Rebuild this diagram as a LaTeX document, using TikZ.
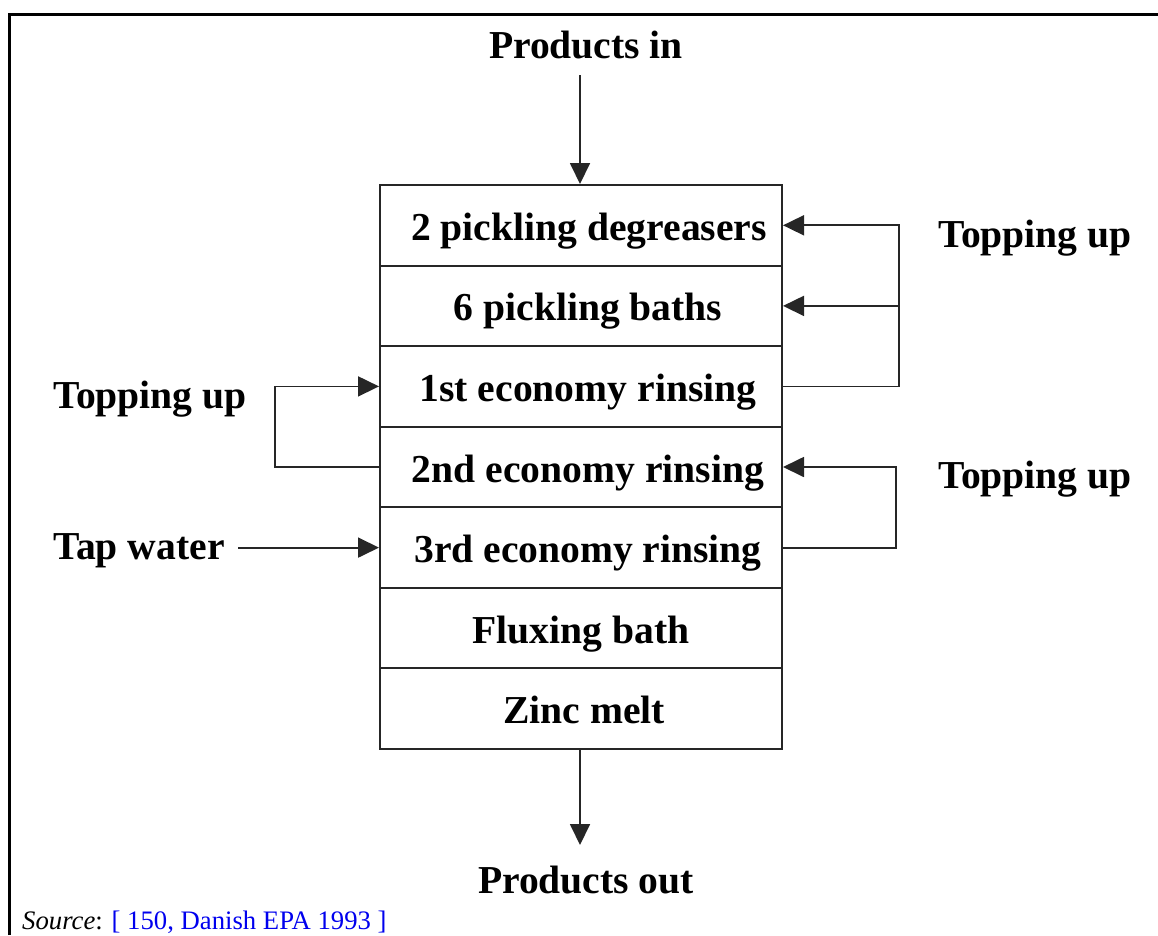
\documentclass[tikz,border=0pt]{standalone}
\usepackage{fontspec}
\setmainfont{Liberation Serif}
\usetikzlibrary{arrows.meta}
\definecolor{srcblue}{RGB}{0,0,238}
\tikzset{
  row/.style={draw=black!85, line width=2pt, minimum width=402pt, minimum height=80.57pt, inner sep=0pt,
    text height=30pt, text depth=0pt,
    font=\fontsize{39.6}{45}\selectfont\bfseries},
  lbl/.style={font=\fontsize{39.6}{45}\selectfont\bfseries, inner sep=0pt},
  arr/.style={draw=black!85, line width=1.8pt, -{Triangle[length=21pt,width=20pt]}},
  frame/.style={draw=black, line width=3pt}
}
\begin{document}
\begin{tikzpicture}[x=1pt,y=-1pt]
\useasboundingbox (0,0) rectangle (1158,935);
\draw[frame] (9,935) -- (9,14) -- (1160,14);
% rows
\node[row] (r1) at (581,225.3) {\hspace*{16pt}2 pickling degreasers};
\node[row] (r2) at (581,305.9) {\hspace*{14pt}6 pickling baths};
\node[row] (r3) at (581,386.4) {\hspace*{14pt}1st economy rinsing};
\node[row] (r4) at (581,467.0) {\hspace*{14pt}2nd economy rinsing};
\node[row] (r5) at (581,547.6) {\hspace*{14pt}3rd economy rinsing};
\node[row] (r6) at (581,628.1) {Fluxing bath};
\node[row] (r7) at (581,708.7) {\hspace*{6pt}Zinc melt};
% labels
\node[lbl] (pin) at (586,45) {Products in};
\node[lbl] (pout) at (586,880) {Products out};
\node[lbl] (tr1) at (1035,238) {Topping up};
\node[lbl] (tl) at (150,399) {Topping up};
\node[lbl] (tr2) at (1035,479) {Topping up};
\node[lbl] (tap) at (139,551) {Tap water};
% coordinates
\coordinate (pi) at (580,75);
\coordinate (po) at (580,845);
\coordinate (rt1) at (899,225.3);
\coordinate (rt2) at (899,305.9);
\coordinate (rt3) at (899,386.4);
\coordinate (lt3) at (275,386.4);
\coordinate (lt4) at (275,467.0);
\coordinate (rb4) at (896,467.0);
\coordinate (rb5) at (896,547.6);
\coordinate (tw) at (238,547.6);
% connectors
\draw[arr] (pi) -- (pi |- r1.north);
\draw[arr] (r7.south -| po) -- (po);
\draw[arr] (r3.east) -- (rt3) -- (rt1) -- (r1.east);
\draw[arr] (rt2) -- (r2.east);
\draw[arr] (r4.west) -- (lt4) -- (lt3) -- (r3.west);
\draw[arr] (r5.east) -- (rb5) -- (rb4) -- (r4.east);
\draw[arr] (tw) -- (r5.west);
% source
\node[anchor=base west, inner sep=0pt, font=\fontsize{26.7}{30}\selectfont] (src) at (22,929) {\textit{Source}: \textcolor{srcblue}{[ 150, Danish EPA 1993 ]}};
\end{tikzpicture}
\end{document}
